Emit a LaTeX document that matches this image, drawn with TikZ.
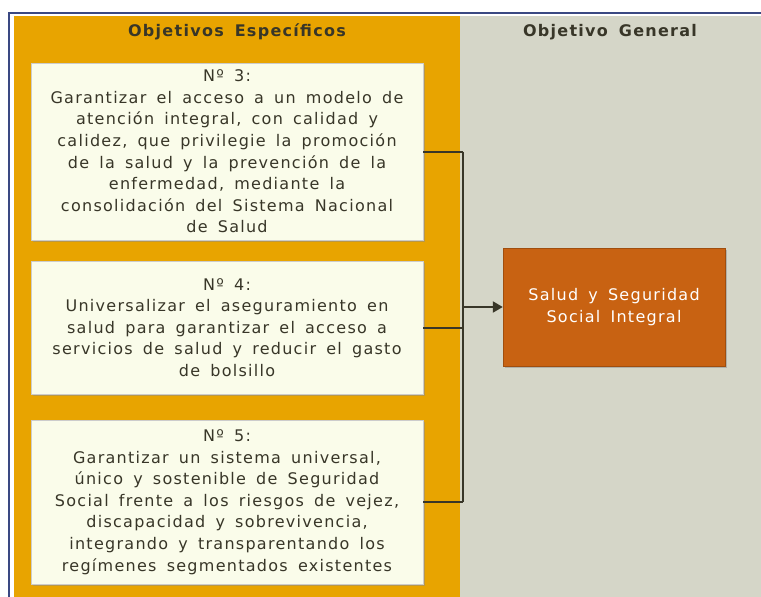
\documentclass[tikz,border=0pt]{standalone}
\usepackage{fontspec}
\setmainfont{DejaVu Sans}[LetterSpace=8,WordSpace=1.6]
\usetikzlibrary{shadows,arrows.meta}
\definecolor{panelorange}{RGB}{232,164,0}
\definecolor{panelgray}{RGB}{213,214,200}
\definecolor{boxivory}{RGB}{250,252,234}
\definecolor{inkgray}{RGB}{56,54,40}
\definecolor{goalorange}{RGB}{200,98,18}
\definecolor{borderblue}{RGB}{58,72,130}
\begin{document}
\begin{tikzpicture}[x=1pt,y=-1pt,
    paneltitle/.style={font=\bfseries\fontsize{16}{18}\selectfont, text=inkgray},
    objbox/.style={draw=white!80!black, fill=boxivory, text=inkgray, align=center,
      minimum width=392pt, inner sep=0pt, font=\fontsize{16}{21.6}\selectfont,
      drop shadow={shadow xshift=1.5pt, shadow yshift=-1.5pt, fill=black!45}},
    goalbox/.style={draw=goalorange!80!black, fill=goalorange, text=white, align=center,
      minimum width=222pt, minimum height=118pt, inner sep=0pt,
      font=\fontsize{16}{22}\selectfont,
      drop shadow={shadow xshift=1.5pt, shadow yshift=-1.5pt, fill=black!45}},
    link/.style={draw=inkgray, line width=2pt}
  ]
  \useasboundingbox (0,0) rectangle (761,597);
  % panels
  \fill[panelorange] (14,16) rectangle (460,597);
  \fill[panelgray] (460,16) rectangle (761,597);
  \draw[borderblue, line width=1.2pt] (9,597) -- (9,13) -- (761,13);
  \node[paneltitle] (spectitle) at (237,32) {Objetivos Específicos};
  \node[paneltitle] (gentitle) at (610,32) {Objetivo General};
  % objetivos especificos
  \foreach \name/\ypos/\boxh/\txt in {
      obj3/151.5/177/{Nº 3:\\Garantizar el acceso a un modelo de\\atención integral, con calidad y\\calidez, que privilegie la promoción\\de la salud y la prevención de la\\enfermedad, mediante la\\consolidación del Sistema Nacional\\de Salud},
      obj4/327.5/133/{Nº 4:\\Universalizar el aseguramiento en\\salud para garantizar el acceso a\\servicios de salud y reducir el gasto\\de bolsillo},
      obj5/502/164/{Nº 5:\\Garantizar un sistema universal,\\único y sostenible de Seguridad\\Social frente a los riesgos de vejez,\\discapacidad y sobrevivencia,\\integrando y transparentando los\\regímenes segmentados existentes}} {
    \node[objbox, minimum height=\boxh pt] (\name) at (227,\ypos) {\txt};
  }
  % objetivo general
  \node[goalbox] (goal) at (614,307) {Salud y Seguridad\\Social Integral};
  % conectores
  \coordinate (trunktop) at (463,151.5);
  \coordinate (trunkbot) at (463,502);
  \coordinate (trunkmid) at (463,307);
  \foreach \name in {obj3,obj4,obj5} {
    \draw[link] (\name.east) -- (\name.east -| trunktop);
  }
  \draw[link] (trunktop) -- (trunkbot);
  \draw[link, -{Triangle[length=10pt,width=11pt]}] (trunkmid) -- (goal.west);
\end{tikzpicture}
\end{document}
